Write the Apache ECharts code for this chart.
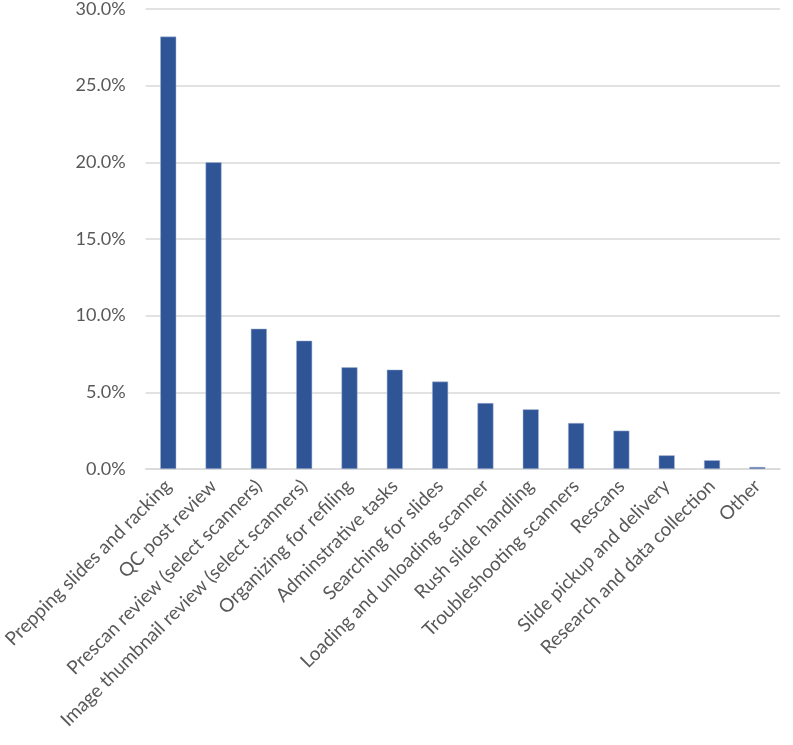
<!DOCTYPE html>
<html>
<head>
<meta charset="utf-8">
<script src="https://cdn.jsdelivr.net/npm/echarts@6/dist/echarts.min.js"></script>
<style>
  html, body { margin: 0; padding: 0; background: #fff; }
  #chart { width: 793px; height: 745px; }
</style>
</head>
<body>
<div id="chart"></div>
<script>
const categories = [
  'Prepping slides and racking',
  'QC post review',
  'Prescan review (select scanners)',
  'Image thumbnail review (select scanners)',
  'Organizing for refiling',
  'Adminstrative tasks',
  'Searching for slides',
  'Loading and unloading scanner',
  'Rush slide handling',
  'Troubleshooting scanners',
  'Rescans',
  'Slide pickup and delivery',
  'Research and data collection',
  'Other'
]
const shares = [28.2, 20.0, 9.15, 8.37, 6.63, 6.48, 5.7, 4.3, 3.89, 3.0, 2.5, 0.89, 0.57, 0.13]
const yTicks = { min: 0, max: 30, step: 5 }

const chart = echarts.init(document.getElementById('chart'))
chart.setOption({
  animation: false,
  grid: { left: 143, right: 13, top: 9, bottom: 276 },
  xAxis: {
    type: 'category',
    data: categories,
    axisLine: { lineStyle: { color: '#d9d9d9', width: 1.5 } },
    axisTick: { show: false },
    axisLabel: {
      interval: 0,
      rotate: 45,
      margin: 14,
      color: '#595959',
      fontFamily: 'Lato',
      fontSize: 19
    }
  },
  yAxis: {
    type: 'value',
    min: yTicks.min,
    max: yTicks.max,
    interval: yTicks.step,
    axisLine: { show: false },
    axisTick: { show: false },
    splitLine: { lineStyle: { color: '#d9d9d9', width: 1.5 } },
    axisLabel: {
      margin: 20,
      color: '#595959',
      fontFamily: 'Lato',
      fontSize: 18,
      formatter: v => v.toFixed(1) + '%'
    }
  },
  series: [{
    type: 'bar',
    data: shares,
    barWidth: 16,
    itemStyle: { color: '#2f5597', borderColor: '#a9b8d6', borderWidth: 0.5 }
  }]
})
</script>
</body>
</html>
